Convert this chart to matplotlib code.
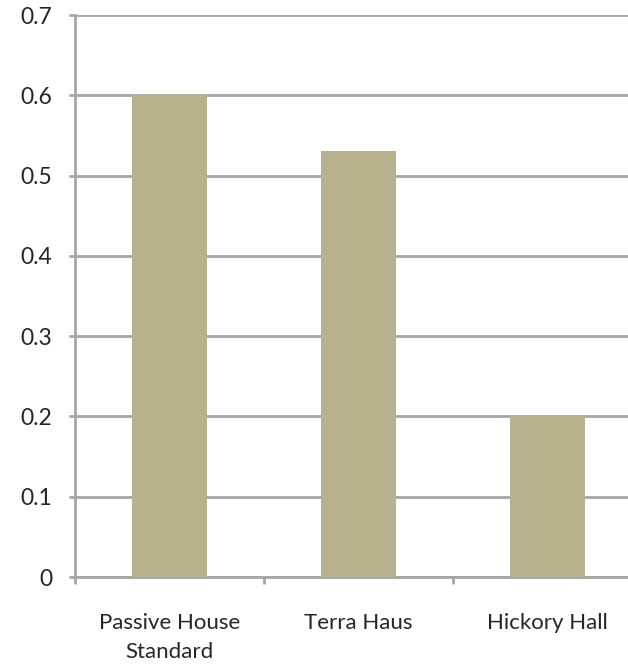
import matplotlib.pyplot as plt

plt.rcParams['font.family'] = ['Lato', 'DejaVu Sans']

categories = ['Passive House\nStandard', 'Terra Haus', 'Hickory Hall']
values = [0.6, 0.53, 0.2]
yticks = [0, 0.1, 0.2, 0.3, 0.4, 0.5, 0.6, 0.7]
ytick_labels = ['0', '0.1', '0.2', '0.3', '0.4', '0.5', '0.6', '0.7']

grid_color = '#A6A6A6'
bar_color = '#B7B18D'
text_color = '#262626'

fig = plt.figure(figsize=(6.28, 6.67), dpi=100)
# plot area runs slightly past the right edge, as in the original export
ax = fig.add_axes([75 / 628, 1 - 577 / 667, 567 / 628, 562 / 667])

x = list(range(len(categories)))
ax.bar(x, values, width=0.4, color=bar_color, zorder=3)

ax.set_xlim(-0.5, len(categories) - 0.5)
ax.set_ylim(0, 0.7)

ax.set_yticks(yticks)
ax.set_yticklabels(ytick_labels, fontsize=16.5, color=text_color)
ax.yaxis.grid(True, color=grid_color, linewidth=2, zorder=0)
ax.set_axisbelow(True)

ax.set_xticks([i - 0.5 for i in x])
ax.set_xticklabels([])
ax.set_xticks(x, minor=True)
ax.set_xticklabels(categories, minor=True, fontsize=16, color=text_color,
                   linespacing=1.55)
ax.tick_params(axis='x', which='minor', length=0, pad=26)
ax.tick_params(axis='x', which='major', length=5, width=2, color=grid_color)
ax.tick_params(axis='y', length=4.5, width=2, color=grid_color, pad=12)

for side in ['top', 'right']:
    ax.spines[side].set_visible(False)
for side in ['left', 'bottom']:
    ax.spines[side].set_color(grid_color)
    ax.spines[side].set_linewidth(2)

fig.savefig('out.png', dpi=100)
